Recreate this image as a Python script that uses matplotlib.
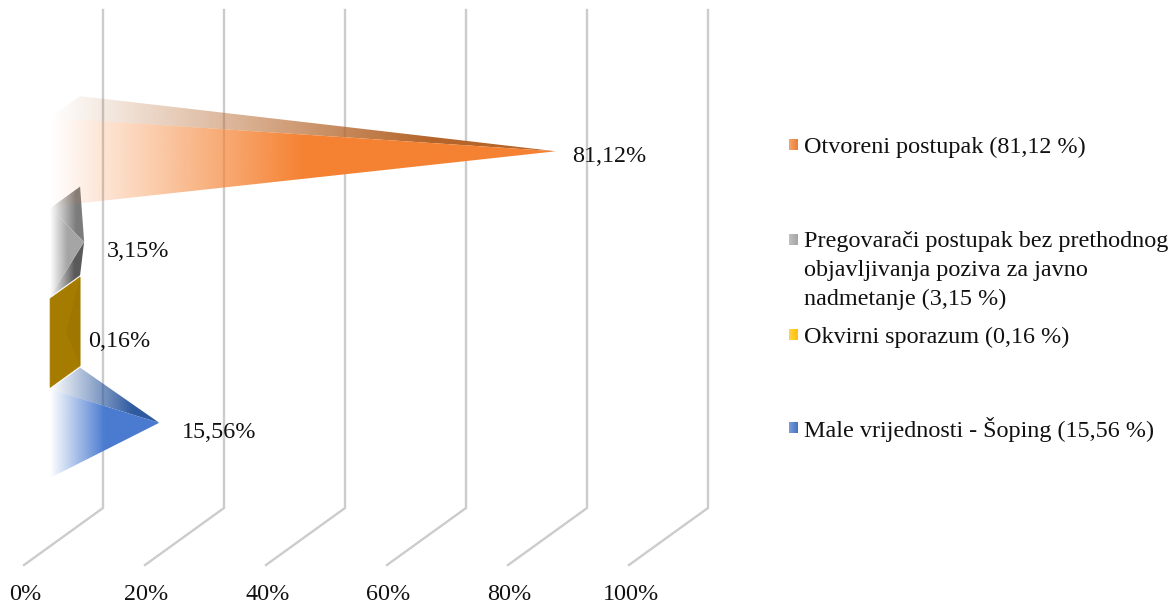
import numpy as np
import matplotlib
matplotlib.use("Agg")
import matplotlib.pyplot as plt
from matplotlib.colors import to_rgb
from matplotlib.patches import Polygon
from matplotlib.transforms import ScaledTranslation

# bottom to top, same order the bars stack in the chart
categories = ["Male vrijednosti - Šoping", "Okvirni sporazum",
              "Pregovarači postupak bez prethodnog", "Otvoreni postupak"]
values = [15.56, 0.16, 3.15, 81.12]
data_labels = ["15,56%", "0,16%", "3,15%", "81,12%"]
tick_values = [0, 20, 40, 60, 80, 100]
tick_labels = ["0%", "20%", "40%", "60%", "80%", "100%"]
legend_lines = [
    ["Otvoreni postupak (81,12 %)"],
    ["Pregovarači postupak bez prethodnog",
     "objavljivanja poziva za javno",
     "nadmetanje (3,15 %)"],
    ["Okvirni sporazum (0,16 %)"],
    ["Male vrijednosti - Šoping (15,56 %)"],
]

# face colours per category: front, top, underside
FRONT = ["#4A7BD0", "#A67C00", "#A5A5A5", "#F58232"]
TOP = ["#2F5A9F", "#A67C00", "#7C7C7C", "#B5652A"]
UNDER = ["#2F5A9F", "#9F7700", "#5A5A5A", "#B5652A"]
LEGEND_COL = ["#ED7D31", "#A5A5A5", "#FFC000", "#4472C4"]

W, H = 1169, 604
AXIS_BOTTOM = 572        # pixel row of the axes' lower edge
FLOOR_Y = 565
PX_PER_PCT = 6.05
PITCH = 90.5             # pixels per category
X_ZERO = 24
DX = 79 / PX_PER_PCT     # depth shift, percent units
DY = 57 / PITCH          # depth shift, category units
WALL = 498 / PITCH

D_FRONT, D_BACK = 0.33, 0.71
D_MID = (D_FRONT + D_BACK) / 2
BAR_START, BAR_H = 0.754, 0.98

plt.rcParams["font.family"] = ["Liberation Serif", "DejaVu Serif"]
FONT = 17.4


def project(v, d, h):
    return v + d * DX, h + d * DY


def faded_face(ax, pts, color, span, zorder, power=1.0):
    # polygon filled with a left-to-right fade, transparent at the base
    pts = np.array(pts)
    x0, x1 = pts[:, 0].min(), pts[:, 0].max()
    y0, y1 = pts[:, 1].min(), pts[:, 1].max()
    t = np.linspace(0, 1, 256)
    rgba = np.zeros((1, 256, 4))
    rgba[..., :3] = to_rgb(color)
    rgba[0, :, 3] = np.clip(t / span, 0, 1) ** power
    im = ax.imshow(rgba, extent=(x0, x1, y0, y1), aspect="auto",
                   interpolation="bilinear", zorder=zorder, origin="lower")
    patch = Polygon(pts, closed=True, transform=ax.transData, fc="none", ec="none")
    ax.add_patch(patch)
    im.set_clip_path(patch)


fig = plt.figure(figsize=(W / 100, H / 100), dpi=100)
ax = fig.add_axes([0, 1 - AXIS_BOTTOM / H, 1, AXIS_BOTTOM / H])

# walls and floor lines
for v in tick_values:
    fx, fy = project(v, 0, 0)
    bx, by = project(v, 1, 0)
    tx, ty = project(v, 1, WALL)
    ax.plot([fx, bx, tx], [fy, by, ty], color="#CCCCCC", lw=1.7, zorder=1,
            solid_joinstyle="miter")

for i, val in enumerate(values):
    h0 = BAR_START + i
    h1 = h0 + BAR_H
    tip = project(val, D_MID, h0 + BAR_H / 2)
    fl = project(0, D_FRONT, h0)
    fh = project(0, D_FRONT, h1)
    bl = project(0, D_BACK, h0)
    bh = project(0, D_BACK, h1)

    if val < 1:
        # nearly flat pyramid, the base shows as a solid block
        ax.add_patch(Polygon([fl, bl, bh, fh], closed=True, fc=FRONT[i], ec=FRONT[i],
                             lw=0.5, zorder=3))
        ax.add_patch(Polygon([bl, bh, tip], closed=True, fc=UNDER[i], ec="none", zorder=4))
        continue

    # the underside only shows on the stubby pyramid, it sits behind the front otherwise
    if val < 5:
        faded_face(ax, [fl, bl, tip], UNDER[i], 0.7, 3)
    faded_face(ax, [fh, bh, tip], TOP[i], 0.75, 4)
    faded_face(ax, [fl, fh, tip], FRONT[i], 0.5, 5)

label_offsets = [(23, -10), (22, -9), (23, -10), (16, -5)]   # pixels from the tip
for i, val in enumerate(values):
    tip = project(val, D_MID, BAR_START + i + BAR_H / 2)
    dx, dy = label_offsets[i]
    ax.annotate(data_labels[i], xy=tip, xytext=(dx * 0.72, dy * 0.72),
                textcoords="offset points", ha="left", va="center",
                fontsize=FONT, color="#111111", zorder=6)

ax.set_xlim(-X_ZERO / PX_PER_PCT, (W - X_ZERO) / PX_PER_PCT)
ax.set_ylim((FLOOR_Y - AXIS_BOTTOM) / PITCH, FLOOR_Y / PITCH)
ax.set_xticks(tick_values)
ax.set_xticklabels(tick_labels, fontsize=FONT, color="#111111")
ax.set_yticks([])
ax.tick_params(axis="x", length=0, pad=8.5)
nudge = ScaledTranslation(1.5 / 100, 0, fig.dpi_scale_trans)
for lab in ax.get_xticklabels():
    lab.set_transform(lab.get_transform() + nudge)
for spine in ax.spines.values():
    spine.set_visible(False)
ax.patch.set_alpha(0)

# legend by hand, entries are spaced unevenly in the original
legend_y = [146, 241, 336, 429]
text_drop = 1.0
for col, lines, y in zip(LEGEND_COL, legend_lines, legend_y):
    key = fig.add_axes([789 / W, 1 - (y + 4) / H, 9 / W, 11 / H])
    ramp = np.ones((1, 64, 3)) * np.array(to_rgb(col))
    fade = np.linspace(0.3, 0, 64)
    ramp[0] = ramp[0] + (1 - ramp[0]) * fade[:, None]
    key.imshow(ramp, aspect="auto", interpolation="bilinear")
    key.axis("off")
    for n, line in enumerate(lines):
        fig.text(804 / W, 1 - (y + text_drop + n * 28.5) / H, line, fontsize=FONT,
                 color="#111111", ha="left", va="center")

fig.savefig("out.png", dpi=100, facecolor="white")
